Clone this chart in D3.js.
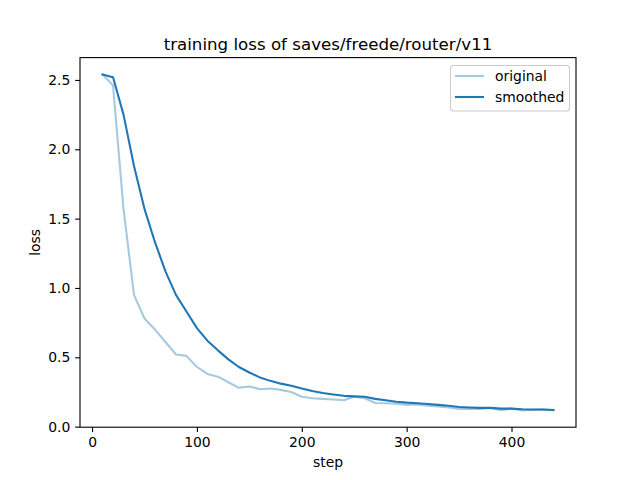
<!DOCTYPE html>
<html><head><meta charset="utf-8">
<script src="https://cdn.jsdelivr.net/npm/d3@7"></script>
<style>body{margin:0;background:#fff}svg{display:block}text{font-family:"DejaVu Sans",sans-serif;}</style>
</head><body>
<svg id="c" width="640" height="480"></svg>
<script>
const steps = [10,20,30,40,50,60,70,80,90,100,110,120,130,140,150,160,170,180,190,200,210,220,230,240,250,260,270,280,290,300,310,320,330,340,350,360,370,380,390,400,410,420,430,440];
const original = [2.54,2.46,1.57,0.95,0.78,0.70,0.61,0.52,0.51,0.43,0.38,0.36,0.32,0.28,0.29,0.27,0.275,0.265,0.25,0.215,0.205,0.20,0.195,0.19,0.215,0.205,0.17,0.168,0.165,0.157,0.16,0.15,0.145,0.138,0.128,0.13,0.128,0.135,0.118,0.13,0.117,0.12,0.123,0.117];
const smoothed = [2.54,2.52,2.25,1.88,1.57,1.33,1.12,0.95,0.83,0.71,0.62,0.55,0.485,0.43,0.39,0.355,0.33,0.31,0.295,0.275,0.257,0.243,0.232,0.222,0.218,0.215,0.20,0.19,0.18,0.173,0.168,0.163,0.157,0.15,0.142,0.138,0.135,0.135,0.13,0.13,0.125,0.123,0.123,0.12];
const xTicks = [0,100,200,300,400];
const yTicks = [0.0,0.5,1.0,1.5,2.0,2.5];
const title = "training loss of saves/freede/router/v11";

const svg = d3.select("#c");
const L=80,R=576,T=57.6,B=427.2;
const xe=d3.extent(steps), xm=(xe[1]-xe[0])*0.05;
const allY=original.concat(smoothed);
const ye=d3.extent(allY), ym=(ye[1]-ye[0])*0.05;
const x=d3.scaleLinear().domain([xe[0]-xm,xe[1]+xm]).range([L,R]);
const y=d3.scaleLinear().domain([ye[0]-ym,ye[1]+ym]).range([B,T]);

const line=(vals)=>d3.line().x((d,i)=>x(steps[i])).y(d=>y(d))(vals);
const g=svg.append("g");
g.append("path").attr("d",line(original)).attr("fill","none").attr("stroke","#1f77b4").attr("stroke-opacity",0.4).attr("stroke-width",2.08).attr("stroke-linejoin","round").attr("stroke-linecap","square");
g.append("path").attr("d",line(smoothed)).attr("fill","none").attr("stroke","#1f77b4").attr("stroke-width",2.08).attr("stroke-linejoin","round").attr("stroke-linecap","square");

const xa=svg.append("g").attr("transform",`translate(0,${B})`).call(d3.axisBottom(x).tickValues(xTicks).tickFormat(d3.format("d")).tickSize(4.86).tickPadding(4.86));
const ya=svg.append("g").attr("transform",`translate(${L},0)`).call(d3.axisLeft(y).tickValues(yTicks).tickFormat(d3.format(".1f")).tickSize(4.86).tickPadding(4.86));
[xa,ya].forEach(a=>{a.select(".domain").remove();a.selectAll("line").attr("stroke","#000").attr("stroke-width",1.1);a.selectAll("text").attr("font-size","13.9px").attr("fill","#000").style("font-family","DejaVu Sans");});
svg.append("rect").attr("x",L).attr("y",T).attr("width",R-L).attr("height",B-T).attr("fill","none").attr("stroke","#000").attr("stroke-width",1.1);

svg.append("text").attr("x",(L+R)/2).attr("y",T-8).attr("text-anchor","middle").attr("font-size","16.67px").text(title);
svg.append("text").attr("x",(L+R)/2).attr("y",467).attr("text-anchor","middle").attr("font-size","13.9px").text("step");
svg.append("text").attr("transform",`translate(40,${(T+B)/2}) rotate(-90)`).attr("text-anchor","middle").attr("font-size","13.9px").text("loss");

const lg=svg.append("g");
lg.append("rect").attr("x",450.5).attr("y",65.5).attr("width",119).attr("height",45.5).attr("rx",3).attr("fill","#fff").attr("fill-opacity",0.8).attr("stroke","#ccc").attr("stroke-width",1.1);
const items=[["original",0.4],["smoothed",1]];
items.forEach((it,i)=>{
  const yy=76+i*21;
  lg.append("line").attr("x1",455).attr("x2",484).attr("y1",yy).attr("y2",yy).attr("stroke","#1f77b4").attr("stroke-opacity",it[1]).attr("stroke-width",2.08);
  lg.append("text").attr("x",495).attr("y",yy+5).attr("font-size","13.9px").text(it[0]);
});
</script>
</body></html>
